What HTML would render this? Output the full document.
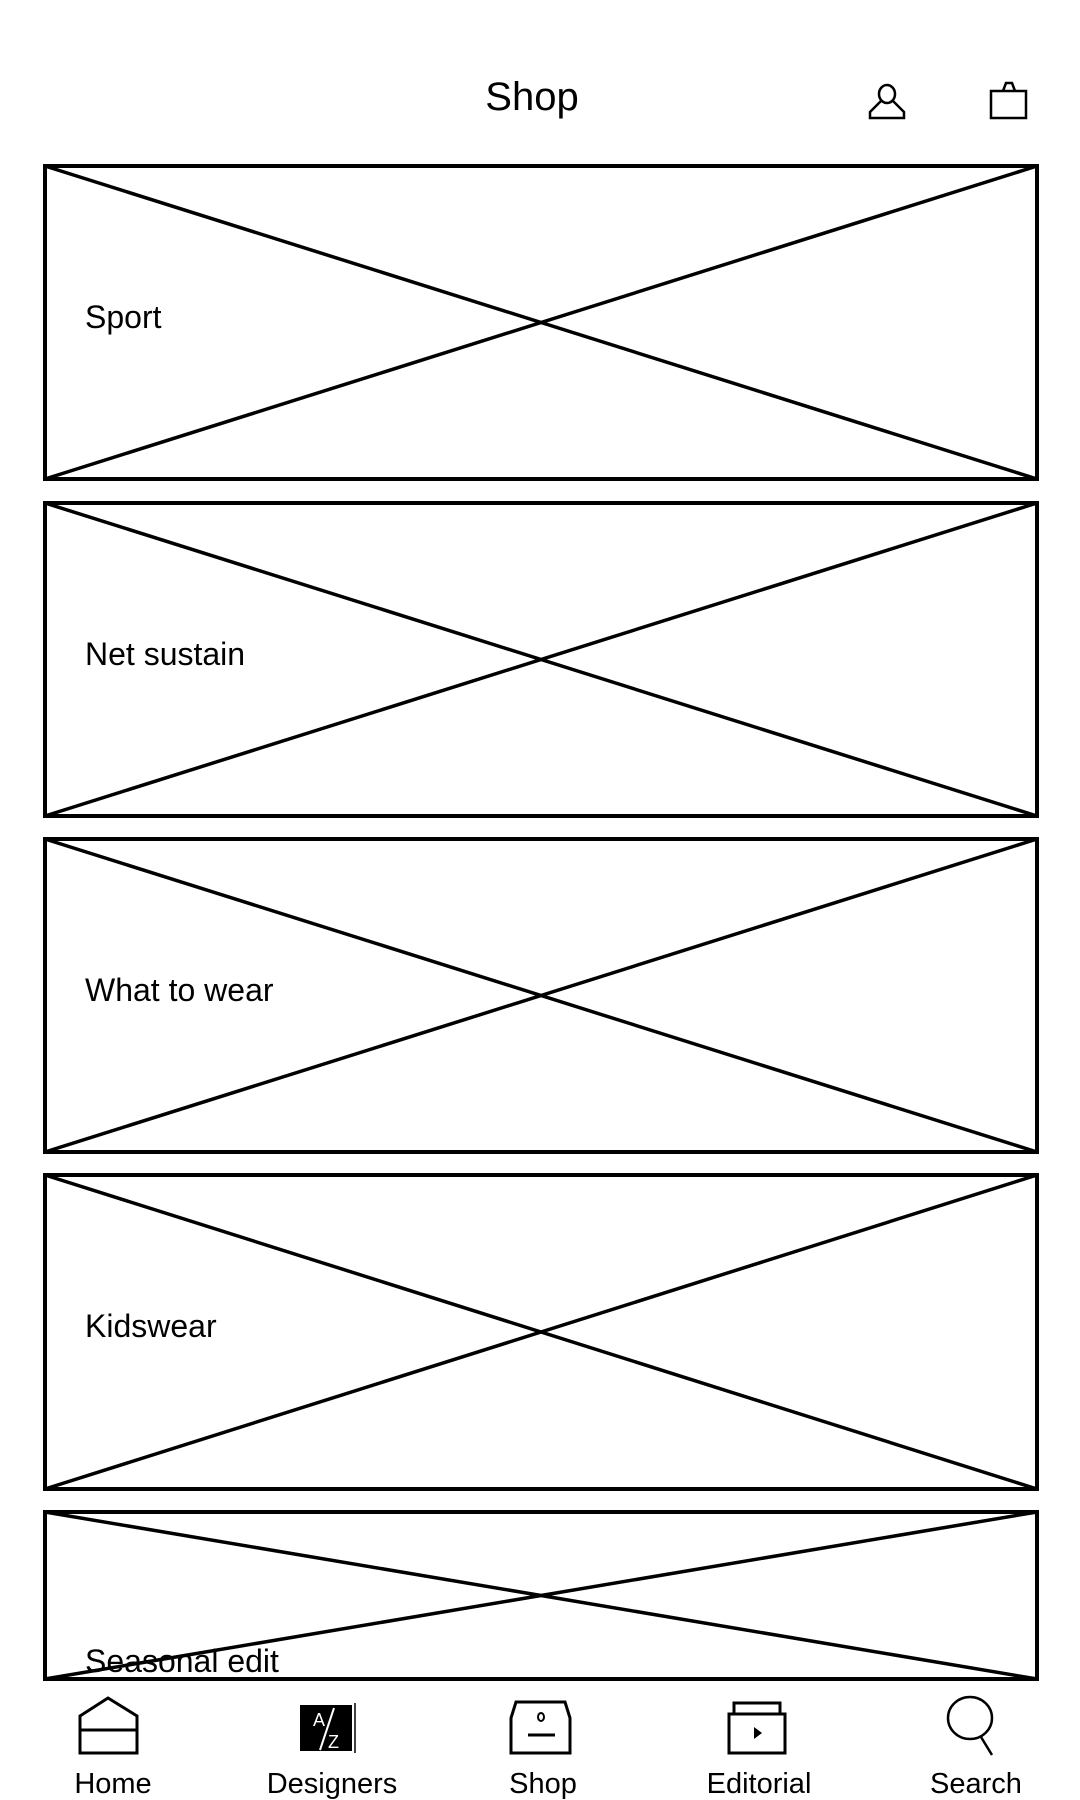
<!DOCTYPE html>
<html><head><meta charset="utf-8"><style>
html,body{margin:0;padding:0;background:#fff;}
body{width:1080px;height:1800px;overflow:hidden;position:relative;font-family:"Liberation Sans",sans-serif;}
svg{position:absolute;left:0;top:0;}
text{font-family:"Liberation Sans",sans-serif;fill:#000;}
</style></head><body>
<svg width="1080" height="1800" viewBox="0 0 1080 1800">
<text x="532" y="110" font-size="40" text-anchor="middle">Shop</text>
<g fill="none" stroke="#000" stroke-width="2.5">
<ellipse cx="887" cy="94" rx="8" ry="9"/>
<path d="M881 101 L870 112 L870 118 L904 118 L904 112 L893 101"/>
</g>
<g fill="none" stroke="#000" stroke-width="2.5">
<rect x="991" y="91" width="35" height="27"/>
<path d="M1003 91 L1006 83 L1012 83 L1015 91"/>
</g>
<g id="cards"></g>
<g>
<g>
<path d="M80 1716 L108 1698 L137 1716 L137 1753 L80 1753 Z M80 1730 L137 1730" fill="none" stroke="#000" stroke-width="3"/>
<text x="113" y="1793" font-size="29" text-anchor="middle">Home</text></g>
<g>
<rect x="300" y="1705" width="52" height="46" fill="#000"/>
<line x1="355" y1="1703" x2="355" y2="1753" stroke="#000" stroke-width="1.5"/>
<text x="313" y="1726" font-size="18" style="fill:#fff">A</text>
<text x="328" y="1748" font-size="18" style="fill:#fff">Z</text>
<line x1="334" y1="1708" x2="320" y2="1750" stroke="#fff" stroke-width="2"/>
<text x="332" y="1793" font-size="29" text-anchor="middle">Designers</text></g>
<g>
<path d="M516 1702 L565 1702 L570 1718 L570 1753 L511 1753 L511 1718 Z" fill="none" stroke="#000" stroke-width="3"/>
<ellipse cx="541" cy="1717" rx="3" ry="4" fill="none" stroke="#000" stroke-width="2"/>
<line x1="528" y1="1735" x2="555" y2="1735" stroke="#000" stroke-width="3"/>
<text x="543" y="1793" font-size="29" text-anchor="middle">Shop</text></g>
<g>
<rect x="729" y="1714" width="56" height="39" fill="none" stroke="#000" stroke-width="3"/>
<rect x="734" y="1703" width="46" height="11" fill="none" stroke="#000" stroke-width="3"/>
<path d="M754 1727 L762 1733 L754 1739 Z" fill="#000"/>
<text x="759" y="1793" font-size="29" text-anchor="middle">Editorial</text></g>
<g>
<ellipse cx="970" cy="1718" rx="22" ry="21" fill="none" stroke="#000" stroke-width="2.5"/>
<line x1="981" y1="1737" x2="992" y2="1755" stroke="#000" stroke-width="2.5"/>
<text x="976" y="1793" font-size="29" text-anchor="middle">Search</text></g>
</g>
</svg>
<script>
const labels = ["Sport","Net sustain","What to wear","Kidswear","Seasonal edit"];
const tops = [166,503,839,1175,1512];
const bottoms = [479,816,1152,1489,1679];
const labelY = [328,665,1001,1337,1672];
const ns="http://www.w3.org/2000/svg";
const g=document.getElementById('cards');
labels.forEach((lab,i)=>{
  const grp=document.createElementNS(ns,'g');
  
  
  const l=45,r=1037,t=tops[i],b=bottoms[i];
  const rect=document.createElementNS(ns,'rect');
  rect.setAttribute('x',l);rect.setAttribute('y',t);rect.setAttribute('width',r-l);rect.setAttribute('height',b-t);
  rect.setAttribute('fill','none');rect.setAttribute('stroke','#000');rect.setAttribute('stroke-width','4');
  grp.appendChild(rect);
  [[l,t,r,b],[l,b,r,t]].forEach(c=>{
    const ln=document.createElementNS(ns,'line');
    ln.setAttribute('x1',c[0]);ln.setAttribute('y1',c[1]);ln.setAttribute('x2',c[2]);ln.setAttribute('y2',c[3]);
    ln.setAttribute('stroke','#000');ln.setAttribute('stroke-width','3.5');
    grp.appendChild(ln);
  });
  const tx=document.createElementNS(ns,'text');
  
  
  tx.setAttribute('x',85);tx.setAttribute('y',labelY[i]);tx.setAttribute('font-size','32');
  tx.textContent=lab;
  grp.appendChild(tx);
  g.appendChild(grp);
});
</script>
</body></html>
